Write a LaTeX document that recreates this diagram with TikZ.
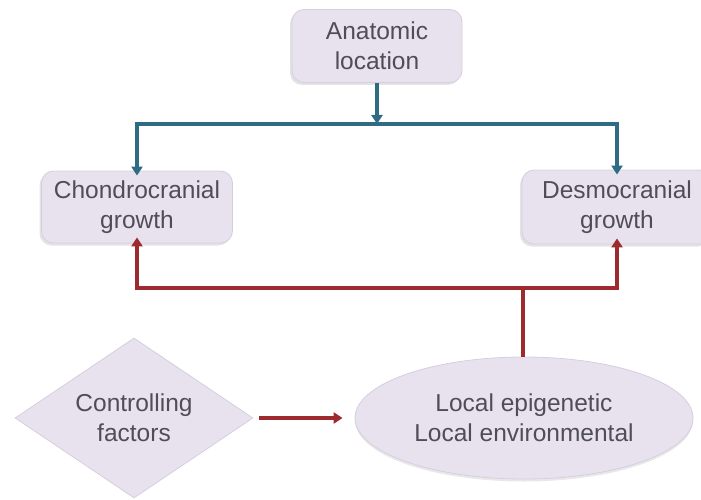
\documentclass[tikz,border=0pt]{standalone}
\usepackage{fontspec}
\setmainfont{Liberation Sans}
\usetikzlibrary{shapes.geometric,arrows.meta,shadows}

\definecolor{boxfill}{HTML}{E8E2EF}
\definecolor{boxline}{HTML}{D6CEDF}
\definecolor{txt}{HTML}{4E4D58}
\definecolor{tealline}{HTML}{2F6C84}
\definecolor{redline}{HTML}{9C2A2E}

\tikzset{
  label text/.style={text=txt, font=\fontsize{24.5}{30}\selectfont, align=center},
  roundbox/.style={label text, draw=boxline, fill=boxfill, line width=0.8pt,
    rounded corners=12pt, inner sep=0pt,
    drop shadow={opacity=0.22, shadow xshift=-2pt, shadow yshift=-2.5pt}},
  decision/.style={label text, diamond, draw=boxline, fill=boxfill, line width=0.8pt,
    inner sep=0pt, minimum width=238pt, minimum height=160pt, aspect=1.5},
  oval/.style={label text, ellipse, draw=boxline, fill=boxfill, line width=0.8pt,
    inner sep=0pt, minimum width=338pt, minimum height=122pt,
    drop shadow={opacity=0.18, shadow xshift=0pt, shadow yshift=-2.5pt}},
  bluearrow/.style={draw=tealline, line width=3.4pt, -{Triangle[length=9pt,width=11pt]}},
  blueline/.style={draw=tealline, line width=3.4pt},
  redarrow/.style={draw=redline, line width=3.4pt, -{Triangle[length=9pt,width=11pt]}},
  redline/.style={draw=redline, line width=3.4pt},
}

\begin{document}
\begin{tikzpicture}[x=1pt,y=-1pt]
  \useasboundingbox (0,0) rectangle (701,500);

  % boxes
  \node[roundbox, minimum width=170pt, minimum height=73pt] (anat) at (377,46)
    {Anatomic\\location};
  \node[roundbox, minimum width=191pt, minimum height=72pt] (chondro) at (137,207)
    {Chondrocranial\\growth};
  \node[roundbox, minimum width=190pt, minimum height=74pt] (desmo) at (617,207)
    {Desmocranial\\growth};
  \node[decision] (ctrl) at (134,418) {Controlling\\factors};
  \node[oval] (local) at (524,418) {Local epigenetic\\Local environmental};

  % junction points of the connector trees
  \coordinate (tsplit) at (377,124);
  \coordinate (tl) at (137,124);
  \coordinate (tr) at (617,124);
  \coordinate (bl) at (137,288);
  \coordinate (br) at (617,288);
  \coordinate (bj) at (523,288);

  % anatomic location feeds both growth types
  \draw[bluearrow] (anat.south) -- (tsplit);
  \draw[blueline] ([xshift=-1.7pt]tl) -- ([xshift=1.7pt]tr);
  \draw[bluearrow] ([yshift=-1.7pt]tl) -- ([yshift=-5pt]chondro.north);
  \draw[bluearrow] ([yshift=-1.7pt]tr) -- ([yshift=-5pt]desmo.north);

  % local factors feed both growth types
  \draw[redline] (local.north -| bj) -- (bj);
  \draw[redline] ([xshift=-1.7pt]bl) -- ([xshift=1.7pt]br);
  \draw[redarrow] ([yshift=1.7pt]bl) -- ([yshift=6pt]chondro.south);
  \draw[redarrow] ([yshift=1.7pt]br) -- ([yshift=6pt]desmo.south);

  % controlling factors act on the local factors
  \draw[redarrow] ([xshift=6pt]ctrl.east) -- ([xshift=-12pt]local.west);
\end{tikzpicture}
\end{document}
